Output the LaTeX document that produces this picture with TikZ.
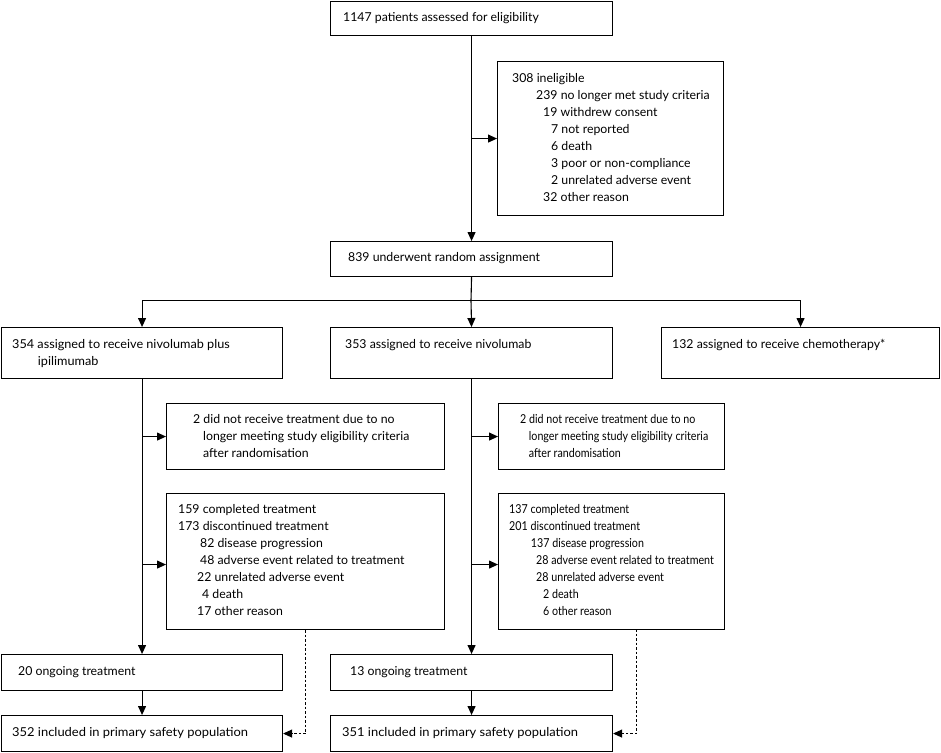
\documentclass[tikz,border=0pt]{standalone}
\usepackage{fontspec}
\usepackage{graphicx}
\setmainfont{Lato}
\usetikzlibrary{arrows.meta}
\newcommand\mylines[2]{\scalebox{#1}[1]{\begin{tabular}[t]{@{}l@{}}#2\end{tabular}}}
\begin{document}
\begin{tikzpicture}[x=1pt,y=-1pt,
  box/.style={draw, line width=1.1pt, anchor=north west, inner sep=0pt},
  txt/.style={anchor=west, inner sep=0pt, font=\fontsize{12.3}{17}\selectfont},
  btxt/.style={anchor=base west, inner sep=0pt, font=\fontsize{12.3}{17}\selectfont},
  conn/.style={line width=1.1pt},
  arr/.style={conn, -{Triangle[length=9pt,width=8pt]}},
  darr/.style={line width=0.9pt, dash pattern=on 2.5pt off 2pt, -{Triangle[length=9pt,width=8pt]}}
]
\useasboundingbox (0,0) rectangle (941,752);
% boxes
\node[box, minimum width=282pt, minimum height=34pt] (top) at (330,1) {};
\node[box, minimum width=226pt, minimum height=154pt] (inel) at (497,61) {};
\node[box, minimum width=282pt, minimum height=35pt] (rand) at (330,241) {};
\node[box, minimum width=281pt, minimum height=51pt] (rowL) at (1,327) {};
\node[box, minimum width=282pt, minimum height=51pt] (rowM) at (330,327) {};
\node[box, minimum width=278pt, minimum height=51pt] (rowR) at (661,327) {};
\node[box, minimum width=278pt, minimum height=66pt] (nrL) at (166,403) {};
\node[box, minimum width=226pt, minimum height=66pt] (nrM) at (498,403) {};
\node[box, minimum width=278pt, minimum height=136pt] (cmpL) at (166,493) {};
\node[box, minimum width=226pt, minimum height=136pt] (cmpM) at (498,493) {};
\node[box, minimum width=281pt, minimum height=36pt] (ongL) at (1,654) {};
\node[box, minimum width=282pt, minimum height=36pt] (ongM) at (330,654) {};
\node[box, minimum width=281pt, minimum height=36pt] (safL) at (1,715) {};
\node[box, minimum width=282pt, minimum height=36pt] (safM) at (330,715) {};
% texts
\node[txt] (top-t) at (343,18) {1147 patients assessed for eligibility};
\node[btxt] (inel-t) at (512,82) {\mylines{1}{308 ineligible\\
\hspace*{24pt}239 no longer met study criteria\\
\hspace*{31pt}19 withdrew consent\\
\hspace*{39pt}7 not reported\\
\hspace*{39pt}6 death\\
\hspace*{39pt}3 poor or non-compliance\\
\hspace*{39pt}2 unrelated adverse event\\
\hspace*{31pt}32 other reason}};
\node[txt] (rand-t) at (348,258) {839 underwent random assignment};
\node[btxt] (rowL-t) at (12,348) {\mylines{1.03}{354 assigned to receive nivolumab plus\\\hspace*{25pt}ipilimumab}};
\node[txt] (rowM-t) at (345,345) {353 assigned to receive nivolumab};
\node[txt] (rowR-t) at (672,345) {132 assigned to receive chemotherapy*};
\node[btxt] (nrL-t) at (193,423) {\mylines{1}{2 did not receive treatment due to no\\
\hspace*{10pt}longer meeting study eligibility criteria\\
\hspace*{10pt}after randomisation}};
\node[btxt] (nrM-t) at (520,423) {\mylines{0.87}{2 did not receive treatment due to no\\
\hspace*{10pt}longer meeting study eligibility criteria\\
\hspace*{10pt}after randomisation}};
\node[btxt] (cmpL-t) at (178,513) {\mylines{1}{159 completed treatment\\
173 discontinued treatment\\
\hspace*{22pt}82 disease progression\\
\hspace*{22pt}48 adverse event related to treatment\\
\hspace*{19pt}22 unrelated adverse event\\
\hspace*{24pt}4 death\\
\hspace*{19pt}17 other reason}};
\node[btxt] (cmpM-t) at (509,513) {\mylines{0.87}{137 completed treatment\\
201 discontinued treatment\\
\hspace*{25pt}137 disease progression\\
\hspace*{31pt}28 adverse event related to treatment\\
\hspace*{31pt}28 unrelated adverse event\\
\hspace*{39pt}2 death\\
\hspace*{39pt}6 other reason}};
\node[txt] (ongL-t) at (18,672) {20 ongoing treatment};
\node[txt] (ongM-t) at (350,672) {13 ongoing treatment};
\node[txt] (safL-t) at (12,733) {\scalebox{1.05}[1]{352 included in primary safety population}};
\node[txt] (safM-t) at (342,733) {\scalebox{1.05}[1]{351 included in primary safety population}};
% connectors
\draw[arr] (top.south) -- (rand.north);
\draw[arr] (top.south |- inel.west) -- (inel.west);
\coordinate (split) at (471,300.5);
\draw[conn] (rand.south) -- (split);
\draw[arr] (split) -- (rowM.north);
\draw[arr] (split) -| (rowL.north);
\draw[arr] (split) -| (rowR.north);
\draw[arr] (rowL.south) -- (ongL.north);
\draw[arr] (rowL.south |- nrL.west) -- (nrL.west);
\draw[arr] ([yshift=-3pt]rowL.south |- cmpL.west) -- ([yshift=-3pt]cmpL.west);
\draw[arr] (ongL.south) -- (safL.north);
\draw[arr] (rowM.south) -- (ongM.north);
\draw[arr] (rowM.south |- nrM.west) -- (nrM.west);
\draw[arr] ([yshift=-3pt]rowM.south |- cmpM.west) -- ([yshift=-3pt]cmpM.west);
\draw[arr] (ongM.south) -- (safM.north);
\draw[darr] (cmpL.south) |- (safL.east);
\coordinate (dM) at (636,629);
\draw[darr] (dM) |- (safM.east);
\end{tikzpicture}
\end{document}
